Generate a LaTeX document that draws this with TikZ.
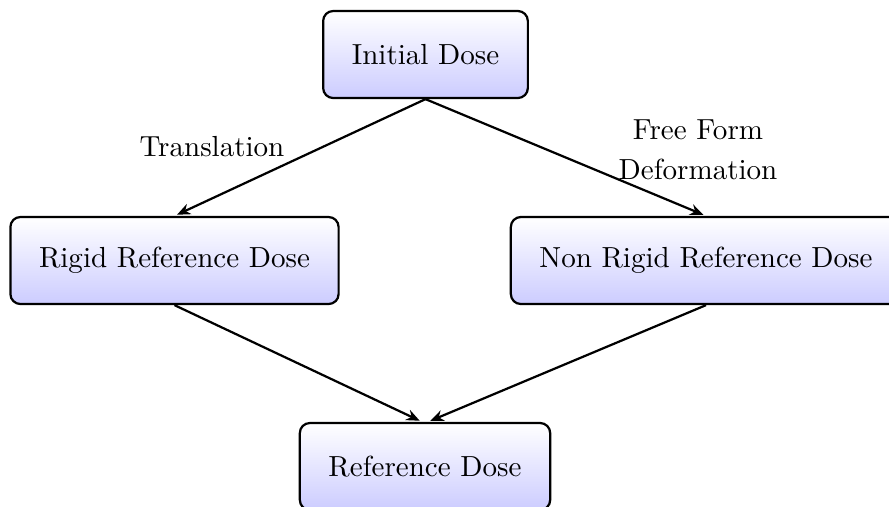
\documentclass[tikz,border=0pt]{standalone}
\usetikzlibrary{arrows.meta}

\tikzset{
  dosebox/.style={
    draw, thick, rounded corners=3.6pt,
    top color=white, bottom color=blue!20,
    minimum height=31.3pt, inner xsep=10.3pt, inner ysep=0pt,
    anchor=center
  },
  flow/.style={thick, -{Stealth[length=4.8pt,width=4pt]}, shorten >=1pt},
  steplabel/.style={align=center, inner sep=0pt}
}

\begin{document}
\begin{tikzpicture}[x=0.3597pt, y=-0.3597pt, font=\fontsize{10.45}{12.5}\selectfont]
  % page frame: the outer boxes run past the right and lower edges
  \clip (0,0) rectangle (889,506);
  \useasboundingbox (0,0) rectangle (889,506);

  % dose boxes
  \node[dosebox] (init)   at (425.5,54.5)  {Initial Dose};
  \node[dosebox] (rigid)  at (174.5,260.5) {Rigid Reference Dose};
  \node[dosebox] (nonrig) at (706,260.5)   {Non Rigid Reference Dose};
  \node[dosebox] (ref)    at (425,466.5)   {Reference Dose};

  % registration steps
  \draw[flow] (init.south) -- (rigid.north);
  \draw[flow] (init.south) -- (nonrig.north);
  \draw[flow] (rigid.south) -- ([xshift=-1pt]ref.north);
  \draw[flow] (nonrig.south) -- ([xshift=1pt]ref.north);

  % step labels
  \node[steplabel] (ltrans) at (212,147) {Translation};
  \node[steplabel] (lffd)   at (698,150) {Free Form\\[1.8pt]Deformation};
\end{tikzpicture}
\end{document}
